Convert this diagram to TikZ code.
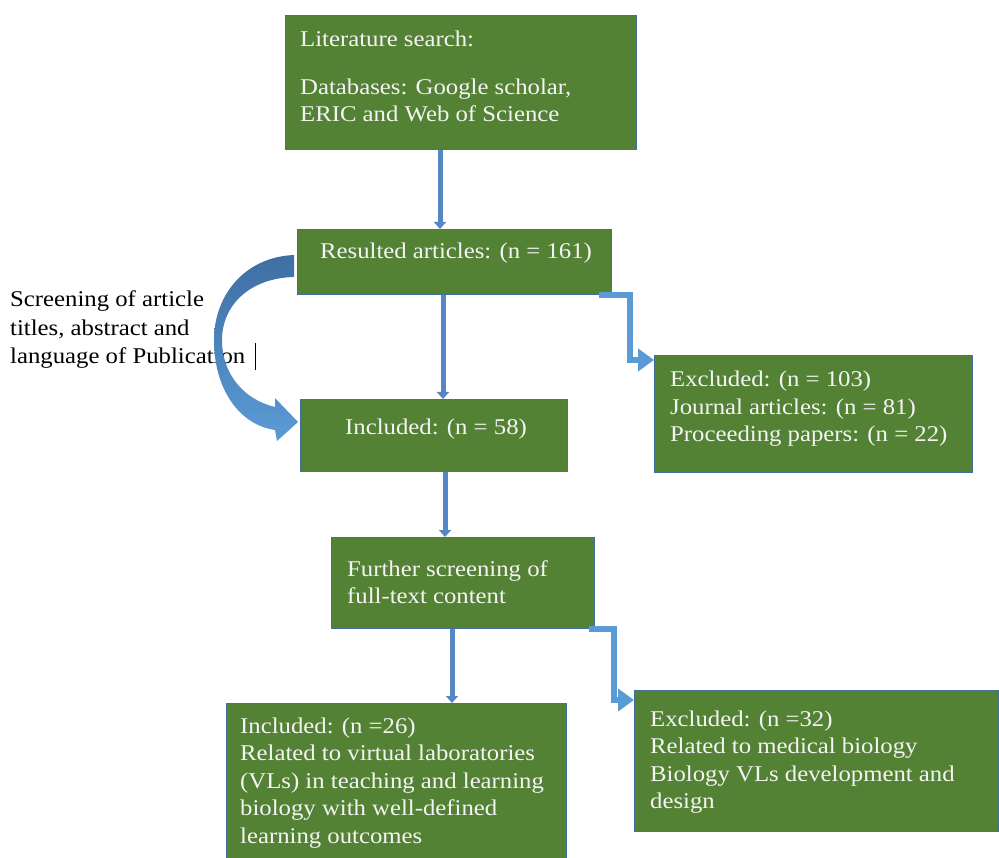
\documentclass[tikz,border=0pt]{standalone}
\usepackage{fontspec}
\setmainfont{Liberation Serif}[FakeStretch=1.1]
\usetikzlibrary{arrows.meta}
\definecolor{boxgreen}{HTML}{548235}
\definecolor{boxline}{HTML}{41719C}
\definecolor{arrblue}{HTML}{5B9BD5}
\definecolor{varrblue}{HTML}{5587C4}
\definecolor{curvetop}{HTML}{3F6FA3}
\definecolor{boxtext}{HTML}{F4F4F4}
\begin{document}
\begin{tikzpicture}[x=1pt,y=-1pt,
  greenbox/.style={draw=boxline, line width=1pt, fill=boxgreen, anchor=north west, inner sep=0pt},
  boxlabel/.style={anchor=west, align=left, inner sep=0pt, text=boxtext, font=\fontsize{22.5}{27.5}\selectfont},
  plainlabel/.style={anchor=west, align=left, inner sep=0pt, text=black, font=\fontsize{22.5}{28.5}\selectfont},
  varrow/.style={draw=varrblue, line width=5pt, -{Triangle[width=12pt,length=7pt]}},
  elbowarrow/.style={draw=arrblue, line width=6pt, miter limit=10, -{Triangle[width=22pt,length=16pt]}}
]
\useasboundingbox (0,0) rectangle (999,858);
\clip (0,0) rectangle (999,858);

% boxes
\node[greenbox, minimum width=351pt, minimum height=134pt] (lit) at (285,15) {};
\node[greenbox, minimum width=314pt, minimum height=65pt] (res) at (297,229) {};
\node[greenbox, minimum width=267pt, minimum height=72pt] (inc1) at (300,399) {};
\node[greenbox, minimum width=318pt, minimum height=117pt] (exc1) at (654,355) {};
\node[greenbox, minimum width=263pt, minimum height=91pt] (fur) at (331,537) {};
\node[greenbox, minimum width=340pt, minimum height=165pt] (inc2) at (226,703) {};
\node[greenbox, minimum width=364pt, minimum height=141pt] (exc2) at (634,690) {};

% texts
\node[boxlabel] (litT) at (300,76.5) {Literature search:\\[20pt]Databases: Google scholar,\\ERIC and Web of Science};
\node[boxlabel] (resT) at (320,253) {Resulted articles: (n = 161)};
\node[boxlabel] (inc1T) at (345,429.5) {Included: (n = 58)};
\node[boxlabel] (exc1T) at (670,409) {Excluded: (n = 103)\\Journal articles: (n = 81)\\Proceeding papers: (n = 22)};
\node[boxlabel] (furT) at (347,582) {Further screening of\\full-text content};
\node[boxlabel] (inc2T) at (240,783) {Included: (n =26)\\Related to virtual laboratories\\(VLs) in teaching and learning\\biology with well-defined\\learning outcomes};
\node[boxlabel] (exc2T) at (650,762) {Excluded: (n =32)\\Related to medical biology\\Biology VLs development and\\design};
\node[plainlabel] (scrT) at (10,330) {Screening of article\\titles, abstract and\\language of Publication};

% cursor mark
\draw[line width=1pt, black] (255,343) -- (255,370);

% vertical arrows
\draw[varrow] ([xshift=155pt]lit.south west) -- ([xshift=143pt]res.north west);
\draw[varrow] ([xshift=146pt]res.south west) -- ([xshift=143pt]inc1.north west);
\draw[varrow] ([xshift=145pt]inc1.south west) -- ([xshift=114pt]fur.north west);
\draw[varrow] ([xshift=121pt]fur.south west) -- ([xshift=226pt]inc2.north west);

% elbow arrows
\draw[elbowarrow] ([xshift=-13pt]res.south east) -- ++(31,0) |- ([yshift=-5pt]exc1.north west);
\draw[elbowarrow] ([xshift=-6pt]fur.south east) -- ++(25,0) |- ([yshift=-10pt]exc2.north west);

% curved arrow
\shade[top color=curvetop, bottom color=arrblue]
  (294,255) .. controls (245,257) and (214,295) .. (214,340)
  .. controls (214,390) and (240,425) .. (275,430)
  -- (277,441) -- (298,422) -- (275,398) -- (275,407)
  .. controls (245,400) and (222,375) .. (222,340)
  .. controls (222,305) and (250,278) .. (294,277) -- cycle;
\end{tikzpicture}
\end{document}
